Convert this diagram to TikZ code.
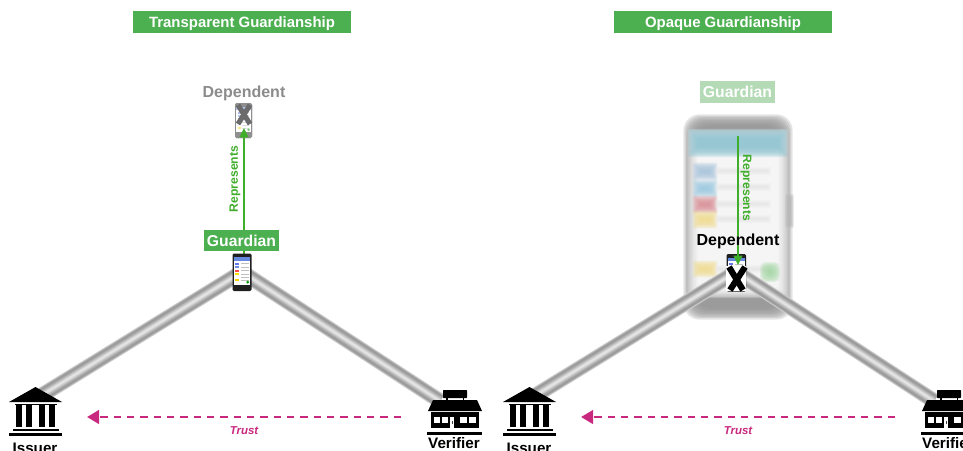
\documentclass[tikz,border=0pt]{standalone}
\usepackage{fontspec}
\setmainfont{Liberation Sans}
\usetikzlibrary{arrows.meta}
\definecolor{gboxc}{HTML}{4CAF50}
\definecolor{gpale}{HTML}{B4DBB6}
\definecolor{greplc}{HTML}{3FAE2A}
\definecolor{trustc}{HTML}{C9287F}
\definecolor{bhead}{HTML}{8FC4D2}
\definecolor{bchipa}{HTML}{A8C4DC}
\definecolor{bchipb}{HTML}{9CC9E0}
\definecolor{bchipc}{HTML}{D88F96}
\definecolor{bchipd}{HTML}{F0DC90}
\definecolor{bround}{HTML}{A8D8A8}
\tikzset{
  x=0.75pt,y=-0.75pt,
  titlebox/.style={fill=gboxc,text=white,font=\fontsize{11.2}{12}\bfseries\selectfont,inner sep=0pt,text depth=0pt,anchor=center},
  guardtext/.style={font=\fontsize{11.8}{12}\bfseries\selectfont},
  iconlabel/.style={font=\fontsize{11.4}{12}\bfseries\selectfont,text=black,inner sep=0pt},
  deplabel/.style={font=\fontsize{12}{13}\bfseries\selectfont,inner sep=0pt},
  replabel/.style={font=\fontsize{9.1}{10}\bfseries\selectfont,text=greplc,inner sep=0pt},
  trustlabel/.style={font=\fontsize{8.6}{10}\bfseries\itshape\selectfont,text=trustc,inner sep=0pt},
  repline/.style={draw=greplc,line width=1.2pt,-{Triangle[length=7pt,width=6.5pt]}},
  trustline/.style={draw=trustc,line width=2.2pt,dash pattern=on 5.5pt off 4.5pt,-{Triangle[length=9pt,width=10pt]}},
  anchorpt/.style={inner sep=0pt,minimum size=0pt},
}
% tube: layered strokes between two named points
\newcommand{\tube}[2]{%
  \draw[line width=11.6pt,color=black!18] (#1) -- (#2);
  \draw[line width=10.4pt,color=black!30] (#1) -- (#2);
  \draw[line width=9pt,color=black!40] (#1) -- (#2);
  \draw[line width=7pt,color=black!36] (#1) -- (#2);
  \draw[line width=5.2pt,color=black!28] (#1) -- (#2);
  \draw[line width=3.4pt,color=black!19] (#1) -- (#2);
  \draw[line width=1.6pt,color=black!11] (#1) -- (#2);
}
% blurred rounded box: x1 y1 x2 y2 colour radius spread
\newcommand{\blurbox}[7]{%
  \foreach \k in {-4,-3,-2,-1,0,1,2,3,4}{
    \fill[#5,opacity=0.24,rounded corners=#6]
      ({#1-\k*#7},{#2-\k*#7}) rectangle ({#3+\k*#7},{#4+\k*#7});
  }}
% small phone, left top corner x y, width w, height h
\newcommand{\smallphone}[4]{%
  \begin{scope}[shift={(#1,#2)},x=#3*0.0375pt,y=-#4*0.01974pt]
    \fill[black!88,rounded corners=1pt] (0,0) rectangle (20,38);
    \fill[white] (1.5,4) rectangle (18.5,32);
    \fill[bhead!70!blue] (1.5,4) rectangle (18.5,7.5);
    \fill[bchipa!60!blue] (3,9.5) rectangle (7,11.5);
    \fill[bchipb!70!blue] (3,13) rectangle (7,15);
    \fill[red!70] (3,16.5) rectangle (7,18.5);
    \fill[yellow!80!orange] (3,20) rectangle (7,22);
    \fill[yellow!70!orange] (3,26) rectangle (7,28);
    \foreach \yy in {10,13.5,17,20.5,24,27}{\fill[black!25] (8.5,\yy) rectangle (17,\yy+1);}
    \fill[green!60!black] (16,29) circle (1.6);
  \end{scope}}
% issuer icon, centre x, top y
\newcommand{\issuericon}[2]{%
  \begin{scope}[shift={(#1,#2)}]
    \fill[black] (0,0) -- (26.5,15) -- (-26.5,15) -- cycle;
    \fill[black] (-21,16.5) rectangle (21,18);
    \foreach \a in {-20,-10,3,13}{\fill[black] (\a,18) rectangle (\a+6.5,40);}
    \fill[black] (-23,42) rectangle (23,44);
    \fill[black] (-26.5,46) rectangle (26.5,49);
  \end{scope}}
% verifier icon, centre x, top y
\newcommand{\verifiericon}[2]{%
  \begin{scope}[shift={(#1,#2)}]
    \fill[black,rounded corners=0.5pt] (-12,0) rectangle (12,8);
    \fill[black] (-9,8) rectangle (-7.5,11);
    \fill[black] (7.5,8) rectangle (9,11);
    \fill[black] (-22,10) -- (22,10) -- (27,21) -- (-27,21) -- cycle;
    \fill[black] (-24,22) rectangle (24,38);
    \fill[white] (-21,27) rectangle (-15,33);
    \fill[white] (-13.5,27) rectangle (-7.5,33);
    \fill[white] (-5,27) rectangle (-1.5,38);
    \fill[black!75] (-2.7,31) rectangle (-2.1,34);
    \fill[white] (5,27) rectangle (12,33);
    \fill[white] (14,27) rectangle (21,33);
    \fill[black] (-28,42) rectangle (27,44.5);
  \end{scope}}
\begin{document}
\begin{tikzpicture}
\useasboundingbox (0,0) rectangle (963,450);
\fill[white] (0,0) rectangle (963,450);
\begin{scope}
\clip (0,0) rectangle (963,450);

% ---------- named anchors
\coordinate (hubA) at (242,272);
\coordinate (issA) at (42,395);
\coordinate (verA) at (440,401);
\coordinate (hubB) at (736,272);
\coordinate (issB) at (536,395);
\coordinate (verB) at (934,401);

% ---------- big blurred phone (right panel)
\blurbox{689}{120}{787}{314}{black!42}{12pt}{1.4}
\blurbox{693}{134}{783}{293}{white}{2pt}{1.3}
\blurbox{693}{134}{783}{152}{bhead}{1pt}{1.3}
\blurbox{697}{167}{713}{176}{bchipa}{1pt}{1.1}
\blurbox{697}{184}{713}{193}{bchipb}{1pt}{1.1}
\blurbox{697}{200}{713}{209}{bchipc}{1pt}{1.1}
\blurbox{697}{215}{713}{224}{bchipd}{1pt}{1.1}
\blurbox{697}{265}{713}{273}{bchipd}{1pt}{1.1}
\foreach \yy in {170,186,203,218,268}{\blurbox{718}{\yy}{768}{\yy+2}{black!9}{0pt}{0.7}}
\blurbox{788}{197}{791}{225}{black!28}{1pt}{0.7}
\blurbox{764}{266}{776}{278}{bround}{4pt}{1}

% ---------- tubes
\tube{hubA}{issA}
\tube{hubA}{verA}
\tube{hubB}{issB}
\tube{hubB}{verB}

% ---------- icons
\issuericon{35.5}{387}
\verifiericon{455}{390}
\issuericon{529.5}{387}
\verifiericon{949}{390}

\node[iconlabel] (issuerA) at (35,448) {Issuer};
\node[iconlabel] (verifierA) at (454,443.5) {Verifier};
\node[iconlabel] (issuerB) at (529,448) {Issuer};
\node[iconlabel] (verifierB) at (948,443.5) {Verifier};

% ---------- left panel
\node[titlebox,minimum width=163.5pt,minimum height=16.5pt] (titleA) at (242,22) {Transparent Guardianship};
\smallphone{235}{103}{17}{35}
\fill[white,opacity=.5] (235,103) rectangle (252,138);
\draw[black!58,line width=3.8pt] (238,105) -- (250,124);
\draw[black!58,line width=3.8pt] (250,105) -- (238,124);
\node[anchorpt,minimum width=12.7pt,minimum height=26pt] (depphoneA) at (243.7,120.5) {};
\node[anchorpt,minimum width=14.3pt,minimum height=28.5pt] (gphoneA) at (242,272) {};
\node[deplabel,text=black!45] (depA) at (244,93) {Dependent};
\draw[repline] (244,255) -- (244,128);
\smallphone{232.5}{253.5}{19}{37.5}
\node[titlebox,guardtext,minimum width=56.5pt,minimum height=16pt] (guardA) at (241.5,240.5) {Guardian};
\node[replabel,rotate=90] (repA) at (235,179) {Represents};

% ---------- right panel
\node[titlebox,minimum width=163.5pt,minimum height=16.5pt] (titleB) at (723,22) {Opaque Guardianship};
\node[titlebox,guardtext,fill=gpale,minimum width=56.5pt,minimum height=16.5pt] (guardB) at (737.5,92) {Guardian};
\node[anchorpt,minimum width=14.3pt,minimum height=28.5pt] (dphoneB) at (736,272.5) {};
\smallphone{726.5}{254}{19.5}{37.5}
\fill[white] (726,266) rectangle (746,291);
\draw[black,line width=4.6pt] (729,267) -- (743,290);
\draw[black,line width=4.6pt] (745,267) -- (730,290);
\draw[repline] (738,136) -- (738,265);
\node[replabel,rotate=-90] (repB) at (746,188) {Represents};
\node[deplabel,text=black] (depB) at (738,241) {Dependent};

% ---------- trust arrows
\coordinate (trustAs) at (401,417);
\coordinate (trustAe) at (87,417);
\coordinate (trustBs) at (895,417);
\coordinate (trustBe) at (581,417);
\draw[trustline] (trustAs) -- (trustAe);
\draw[trustline] (trustBs) -- (trustBe);
\node[trustlabel] (trustA) at (244,431) {Trust};
\node[trustlabel] (trustB) at (738,431) {Trust};
\end{scope}
\end{tikzpicture}
\end{document}
